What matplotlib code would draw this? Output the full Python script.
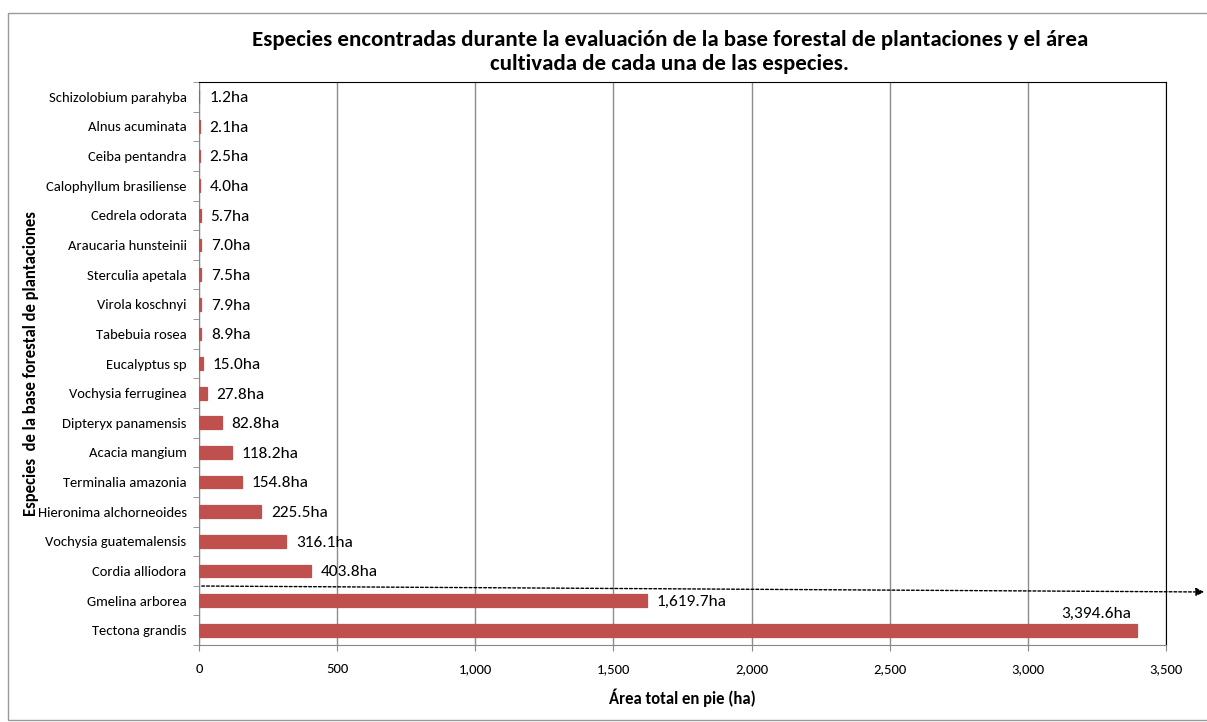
import matplotlib
matplotlib.use('Agg')
import matplotlib.pyplot as plt
import matplotlib.ticker as mticker
import matplotlib.patches as patches

plt.rcParams['font.family'] = ['Carlito', 'Liberation Sans Narrow', 'Open Sans', 'DejaVu Sans']

species = ['Tectona grandis', 'Gmelina arborea', 'Cordia alliodora', 'Vochysia guatemalensis',
           'Hieronima alchorneoides', 'Terminalia amazonia', 'Acacia mangium', 'Dipteryx panamensis',
           'Vochysia ferruginea', 'Eucalyptus sp', 'Tabebuia rosea', 'Virola koschnyi',
           'Sterculia apetala', 'Araucaria hunsteinii', 'Cedrela odorata', 'Calophyllum brasiliense',
           'Ceiba pentandra', 'Alnus acuminata', 'Schizolobium parahyba']
area_ha = [3394.6, 1619.7, 403.8, 316.1, 225.5, 154.8, 118.2, 82.8, 27.8, 15.0, 8.9, 7.9,
           7.5, 7.0, 5.7, 4.0, 2.5, 2.1, 1.2]
xticks = [0, 500, 1000, 1500, 2000, 2500, 3000, 3500]

barColor = '#C0504D'

fig = plt.figure(figsize=(12.07, 7.22), dpi=100)
ax = fig.add_axes([0.1649, 0.1066, 0.8012, 0.7798])

# outer chart frame
fig.patches.append(patches.Rectangle((8 / 1207, 2 / 722), 1.0, 707 / 722, transform=fig.transFigure,
                                     fill=False, edgecolor='#9a9a9a', linewidth=1.0))

pos = list(range(len(species)))
# thin edge keeps the tiny areas visible as a sliver
ax.barh(pos, area_ha, height=0.43, color=barColor, edgecolor=barColor, linewidth=0.9, zorder=3)

for y, v in zip(pos, area_ha):
    txt = '{:,.1f}ha'.format(v)
    if v > 3000:
        ax.annotate(txt, (v, y), xytext=(-4, 12), textcoords='offset points',
                    ha='right', va='center', fontsize=12.5)
    else:
        ax.annotate(txt, (v, y), xytext=(7, -1), textcoords='offset points',
                    ha='left', va='center', fontsize=12.5)

ax.set_xlim(0, 3500)
ax.set_ylim(-0.5, len(species) - 0.5)
ax.set_xticks(xticks)
ax.xaxis.set_major_formatter(mticker.FuncFormatter(lambda x, p: '{:,.0f}'.format(x)))
ax.set_yticks(pos)
ax.set_yticklabels(species, fontsize=10.5)
ax.tick_params(axis='y', length=0, pad=9)
ax.tick_params(axis='x', labelsize=10.5, length=4, color='#888888', pad=9)
ax.set_yticks([p - 0.5 for p in pos] + [len(species) - 0.5], minor=True)
ax.tick_params(axis='y', which='minor', length=4, color='#888888')

ax.grid(axis='x', color='#8c8c8c', linewidth=1.0, zorder=0)
ax.spines['left'].set_color('#888888')
ax.spines['bottom'].set_color('#888888')
ax.spines['top'].set_color('black')
ax.spines['right'].set_color('black')

ax.set_xlabel('Área total en pie (ha)', fontsize=12, fontweight='bold', labelpad=10)
ax.set_ylabel('Especies  de la base forestal de plantaciones', fontsize=12, fontweight='bold')
ax.yaxis.set_label_coords(-0.166, 0.5)
fig.text(0.555, 0.898, 'Especies encontradas durante la evaluación de la base forestal de plantaciones y el área\ncultivada de cada una de las especies.',
         ha='center', va='bottom', fontsize=16.5, fontweight='bold', linespacing=1.2)

# dashed arrow between Cordia and Gmelina
fig.add_artist(patches.FancyArrowPatch((199 / 1207, 1 - 586 / 722), (1207 / 1207, 1 - 592 / 722),
                                       transform=fig.transFigure, arrowstyle='-|>', mutation_scale=12,
                                       linestyle=(0, (2, 1.5)), linewidth=1.0, color='black'))

fig.savefig('out.png', dpi=100)
